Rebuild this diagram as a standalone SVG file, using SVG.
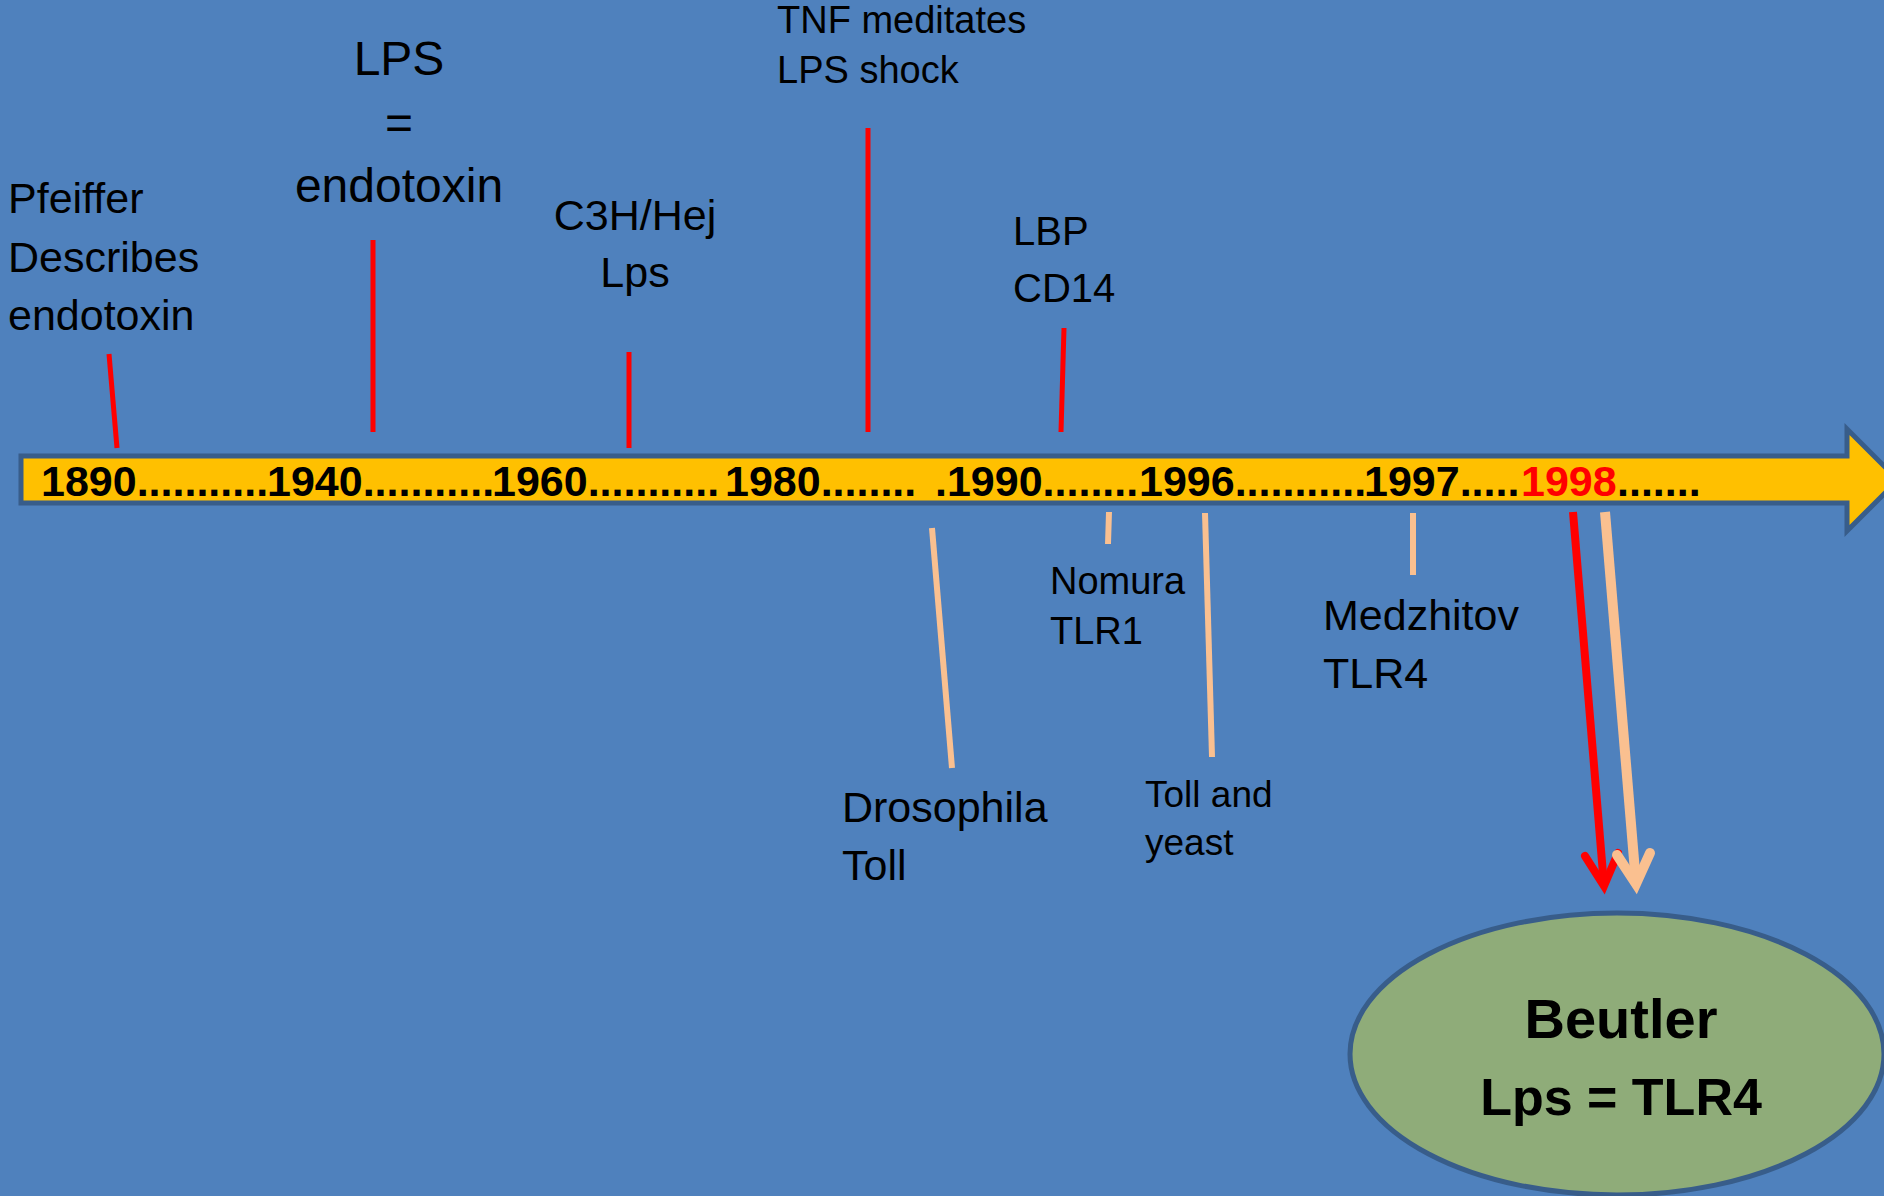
<svg xmlns="http://www.w3.org/2000/svg" width="1884" height="1196" viewBox="0 0 1884 1196">
<style>
.lbl{font-family:"Liberation Sans",Arial,sans-serif;fill:#000}
.yr{font-family:"Liberation Sans",Arial,sans-serif;font-weight:bold;font-size:43px;fill:#000}
.tick-r{stroke:#FF0000;stroke-width:5;fill:none}
.tick-p{stroke:#FAC090;stroke-width:6;fill:none}
.big{font-family:"Liberation Sans",Arial,sans-serif;font-weight:bold;font-size:52px;fill:#000}
</style>
<rect x="0" y="0" width="1884" height="1196" fill="#4F81BD"/>

<g id="timeline">
<path d="M21,456 H1847 V429 L1898,480 L1847,531 V503 H21 Z" fill="#FFC000" stroke="#385D8A" stroke-width="5" stroke-linejoin="miter"/>
<text class="yr" y="496"><tspan x="41">1890...........</tspan><tspan x="267">1940...........</tspan><tspan x="492">1960...........</tspan><tspan x="725">1980........</tspan><tspan x="935">.1990........</tspan><tspan x="1139">1996...........</tspan><tspan x="1364">1997.....</tspan><tspan x="1521" fill="#FF0000">1998</tspan><tspan x="1617">.......</tspan></text>
</g>

<g id="label-pfeiffer" class="lbl" font-size="43">
<text x="8" y="213">Pfeiffer</text>
<text x="8" y="272">Describes</text>
<text x="8" y="330">endotoxin</text>
</g>

<g id="label-lps" class="lbl" font-size="48" text-anchor="middle">
<text x="399" y="75">LPS</text>
<text x="399" y="139">=</text>
<text x="399" y="202">endotoxin</text>
</g>

<g id="label-c3h" class="lbl" font-size="43" text-anchor="middle">
<text x="635" y="230">C3H/Hej</text>
<text x="635" y="287">Lps</text>
</g>

<g id="label-tnf" class="lbl" font-size="38">
<text x="777" y="33">TNF meditates</text>
<text x="777" y="83">LPS shock</text>
</g>

<g id="label-lbp" class="lbl" font-size="40">
<text x="1013" y="245">LBP</text>
<text x="1013" y="302">CD14</text>
</g>

<g id="label-drosophila" class="lbl" font-size="43">
<text x="842" y="822">Drosophila</text>
<text x="842" y="880">Toll</text>
</g>

<g id="label-nomura" class="lbl" font-size="38">
<text x="1050" y="594">Nomura</text>
<text x="1050" y="644">TLR1</text>
</g>

<g id="label-toll-yeast" class="lbl" font-size="37">
<text x="1145" y="807">Toll and</text>
<text x="1145" y="855">yeast</text>
</g>

<g id="label-medzhitov" class="lbl" font-size="43">
<text x="1323" y="630">Medzhitov</text>
<text x="1323" y="688">TLR4</text>
</g>

<g id="beutler">
<ellipse cx="1617" cy="1054" rx="267" ry="141" fill="#8FAC79" stroke="#385D8A" stroke-width="5"/>
<text class="big" x="1621" y="1038" text-anchor="middle" style="font-size:56px">Beutler</text>
<text class="big" x="1621" y="1115" text-anchor="middle">Lps = TLR4</text>
</g>

<g id="connectors">
<line class="tick-r" x1="109" y1="354" x2="117" y2="448"/>
<line class="tick-r" x1="373" y1="240" x2="373" y2="432"/>
<line class="tick-r" x1="629" y1="352" x2="629" y2="448"/>
<line class="tick-r" x1="868" y1="128" x2="868" y2="432"/>
<line class="tick-r" x1="1064" y1="328" x2="1061" y2="432"/>
<line class="tick-p" x1="932" y1="528" x2="952" y2="768"/>
<line class="tick-p" x1="1109" y1="512" x2="1108" y2="544"/>
<line class="tick-p" x1="1205" y1="513" x2="1212" y2="757"/>
<line class="tick-p" x1="1413" y1="513" x2="1413" y2="575"/>
<g fill="none" stroke-linecap="round" stroke-linejoin="miter">
<path d="M1573,512 L1604,886" stroke="#FF0000" stroke-width="8" stroke-linecap="butt"/>
<path d="M1585,856 L1604,886 L1618,853" stroke="#FF0000" stroke-width="8"/>
<path d="M1605,512 L1636,884" stroke="#FAC090" stroke-width="10" stroke-linecap="butt"/>
<path d="M1617,855 L1636,884 L1650,853" stroke="#FAC090" stroke-width="10"/>
</g>
</g>
</svg>
